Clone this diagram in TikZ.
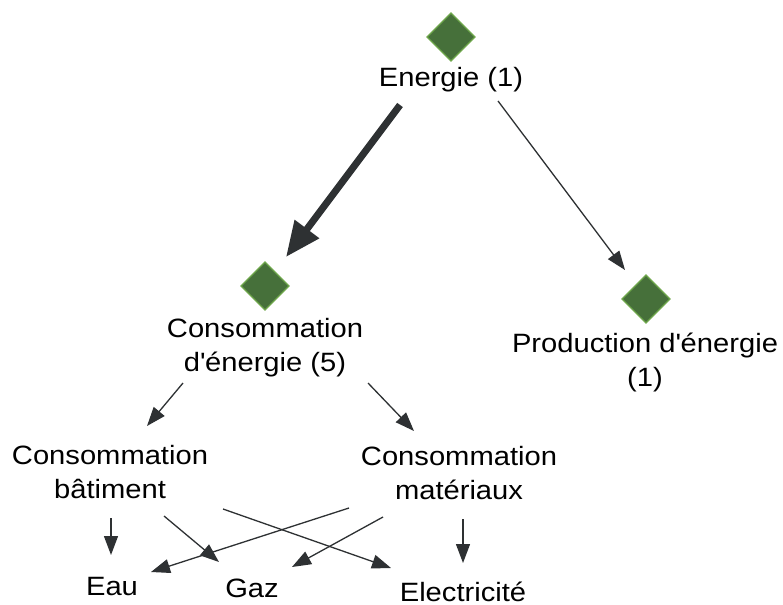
\documentclass[tikz,border=0pt]{standalone}
\usepackage{fontspec}
\setmainfont{Liberation Sans}[FakeStretch=1.1]
\usetikzlibrary{arrows.meta,calc}
\definecolor{dfill}{HTML}{46703A}
\definecolor{dedge}{HTML}{6FA84C}
\definecolor{ink}{HTML}{2E3133}
\begin{document}
\begin{tikzpicture}[x=1pt,y=-1pt,
  gem/.style={draw=dedge,fill=dfill,line width=1.2pt,minimum size=34pt,inner sep=0pt,rotate=45},
  lbl/.style={font=\fontsize{26.5}{34}\selectfont,inner sep=0pt,align=center,anchor=base,text=black},
  conn/.style={draw=ink,line width=1.3pt,-{Triangle[length=19pt,width=14pt]}},
  bigconn/.style={draw=ink,line width=7pt,-{Triangle[length=35pt,width=29pt]}}]
\useasboundingbox[fill=white] (0,0) rectangle (783,604);
% diamonds
\node[gem] (d1) at (451,37) {};
\node[gem] (d2) at (265,286) {};
\node[gem] (d3) at (646,299) {};
% labels (base = baseline of the last line)
\node[lbl] (t1) at (451,87) {Energie (1)};
\node[lbl] (t2) at (265,371) {Consommation\\d\textquotesingle énergie (5)};
\node[lbl] (t3) at (645,386) {Production d\textquotesingle énergie\\(1)};
\node[lbl] (cb) at (110,498) {Consommation\\bâtiment};
\node[lbl] (cm) at (459,499) {Consommation\\matériaux};
\node[lbl] (eau) at (112,595) {Eau};
\node[lbl] (gaz) at (252,597) {Gaz};
\node[lbl] (elec) at (463,601) {Electricité};
% connectors
\draw[bigconn] ($(t1.base)+(-51,18)$) -- ($(d2)+(21,-29)$);
\draw[conn] ($(t1.base)+(47,14)$) -- ($(d3)+(-21,-29)$);
\draw[conn] ($(t2.base)+(-82,12)$) -- ($(cb.base)+(37,-72)$);
\draw[conn] ($(t2.base)+(103,12)$) -- ($(cm.base)+(-45,-68)$);
\draw[conn] ($(cb.base)+(1,20)$) -- ($(eau.base)+(-1,-40)$);
\draw[conn] ($(cb.base)+(54,18)$) -- ($(gaz.base)+(-33,-35)$);
\draw[conn] ($(cb.base)+(113,11)$) -- ($(elec.base)+(-72,-33)$);
\draw[conn] ($(cm.base)+(-110,9)$) -- ($(eau.base)+(39,-23)$);
\draw[conn] ($(cm.base)+(-76,18)$) -- ($(gaz.base)+(40,-30)$);
\draw[conn] ($(cm.base)+(4,20)$) -- ($(elec.base)+(0,-38)$);
\end{tikzpicture}
\end{document}
